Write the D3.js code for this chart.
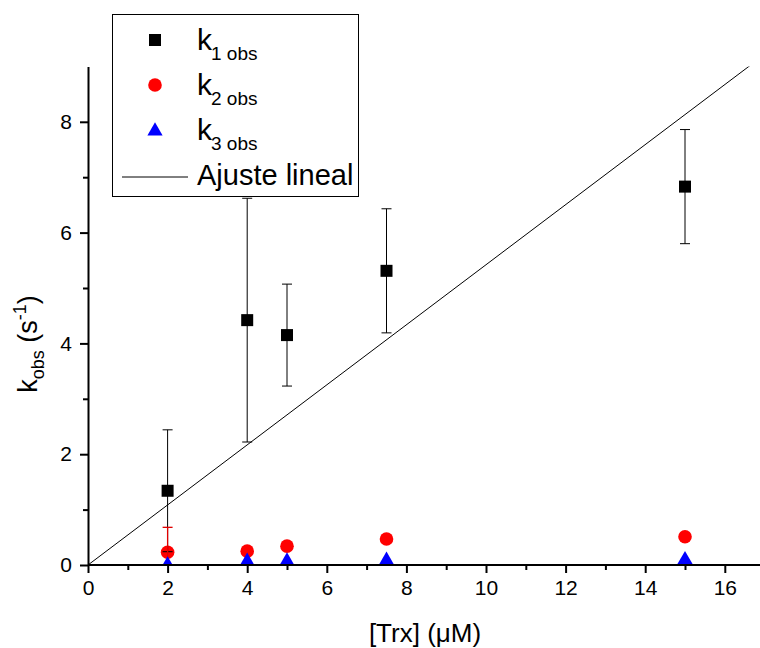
<!DOCTYPE html>
<html>
<head>
<meta charset="utf-8">
<script src="https://cdn.jsdelivr.net/npm/d3@7"></script>
<style>
  body { margin: 0; background: #fff; }
  svg { display: block; font-family: "Liberation Sans", Arial, sans-serif; }
</style>
</head>
<body>
<svg id="chart" width="760" height="648"></svg>
<script>
// ---- data ----
const trx = [2, 4, 5, 7.5, 15];
const k1 = [1.34, 4.42, 4.15, 5.31, 6.83];
const k1Err = [1.1, 2.2, 0.92, 1.12, 1.03];
const k2 = [0.23, 0.25, 0.34, 0.47, 0.51];
const k2Err = [0.45, 0, 0, 0, 0];
const k3 = [0.0, 0.065, 0.07, 0.085, 0.095];
const fitSlope = 0.542;
const xMajorTicks = [0, 2, 4, 6, 8, 10, 12, 14, 16];
const xMinorTicks = [1, 3, 5, 7, 9, 11, 13, 15];
const yMajorTicks = [0, 2, 4, 6, 8];
const yMinorTicks = [1, 3, 5, 7];

const svg = d3.select("#chart");
const x = d3.scaleLinear().domain([0, 17]).range([88, 88 + 17 * 39.8]);
const y = d3.scaleLinear().domain([0, 9]).range([565, 565 - 9 * 55.4]);

svg.append("defs").append("clipPath").attr("id", "plotclip")
  .append("rect").attr("x", 88).attr("y", y(9)).attr("width", 760 - 88).attr("height", y(0) - y(9));

const plot = svg.append("g").attr("clip-path", "url(#plotclip)");

// fit line
plot.append("path")
  .datum([0, 17])
  .attr("d", d3.line().x(d => x(d)).y(d => y(d * fitSlope)))
  .attr("fill", "none").attr("stroke", "#000").attr("stroke-width", 1);

// k2 circles (beneath error bars)
plot.selectAll(".k2").data(trx).join("circle")
  .attr("cx", d => x(d)).attr("cy", (d, i) => y(k2[i])).attr("r", 6.8).attr("fill", "#ff0000");

// error bar helper
function errBars(vals, errs, color, w) {
  const g = plot.append("g").attr("stroke", color).attr("stroke-width", w).attr("fill", "none");
  trx.forEach((xv, i) => {
    if (!errs[i]) return;
    const lo = vals[i] - errs[i], hi = vals[i] + errs[i];
    g.append("line").attr("x1", x(xv)).attr("x2", x(xv)).attr("y1", y(lo)).attr("y2", y(hi));
    g.append("line").attr("x1", x(xv) - 5).attr("x2", x(xv) + 5).attr("y1", y(lo)).attr("y2", y(lo));
    g.append("line").attr("x1", x(xv) - 5).attr("x2", x(xv) + 5).attr("y1", y(hi)).attr("y2", y(hi));
  });
}
errBars(k1, k1Err, "#000", 1);
errBars(k2, k2Err, "#e00000", 1.3);

// k1 squares
plot.selectAll(".k1").data(trx).join("rect")
  .attr("x", d => x(d) - 6).attr("y", (d, i) => y(k1[i]) - 6)
  .attr("width", 12).attr("height", 12).attr("fill", "#000");

// k3 triangles
const tri = d3.symbol().type(d3.symbolTriangle).size(100);
plot.selectAll(".k3").data(trx).join("path")
  .attr("d", tri).attr("fill", "#0000ff")
  .attr("transform", (d, i) => `translate(${x(d)},${y(k3[i])})`);

// axes
const axStyle = g => {
  g.selectAll("path, line").attr("stroke", "#000").attr("stroke-width", 2);
  g.selectAll("text").attr("fill", "#000").style("font-size", "21px")
    .style("font-family", '"Liberation Sans", Arial, sans-serif');
};
const xg = svg.append("g").attr("transform", `translate(0,${y(0)})`)
  .call(d3.axisBottom(x).tickValues(xMajorTicks).tickSize(8).tickSizeOuter(0).tickPadding(7).tickFormat(d3.format("d")));
xg.select(".domain").attr("d", `M${x(0)},0H760`);
xg.call(axStyle);
const xm = svg.append("g").attr("transform", `translate(0,${y(0)})`)
  .call(d3.axisBottom(x).tickValues(xMinorTicks).tickSize(5).tickFormat(""));
xm.select(".domain").remove();
xm.call(axStyle);

const yg = svg.append("g").attr("transform", `translate(${x(0)},0)`)
  .call(d3.axisLeft(y).tickValues(yMajorTicks).tickSize(8).tickSizeOuter(0).tickPadding(8).tickFormat(d3.format("d")));
yg.call(axStyle);
const ym = svg.append("g").attr("transform", `translate(${x(0)},0)`)
  .call(d3.axisLeft(y).tickValues(yMinorTicks).tickSize(5).tickFormat(""));
ym.select(".domain").remove();
ym.call(axStyle);

// axis titles
svg.append("text").attr("x", 425).attr("y", 642).attr("text-anchor", "middle")
  .style("font-size", "26px").text("[Trx] (μM)");

const yt = svg.append("text").attr("transform", "translate(37,344) rotate(-90)")
  .attr("text-anchor", "middle").style("font-size", "27px");
yt.append("tspan").text("k");
yt.append("tspan").attr("dy", 7).style("font-size", "18px").text("obs");
yt.append("tspan").attr("dy", -7).text(" (s");
yt.append("tspan").attr("dy", -11).style("font-size", "18px").text("-1");
yt.append("tspan").attr("dy", 11).text(")");

// legend
const lg = svg.append("g");
lg.append("rect").attr("x", 112.5).attr("y", 14.5).attr("width", 246).attr("height", 182)
  .attr("fill", "#fff").attr("stroke", "#000").attr("stroke-width", 1);
const legItems = [
  { label: "1 obs", cy: 40 },
  { label: "2 obs", cy: 85 },
  { label: "3 obs", cy: 130 }
];
lg.append("rect").attr("x", 155 - 6).attr("y", 40 - 6).attr("width", 12).attr("height", 12).attr("fill", "#000");
lg.append("circle").attr("cx", 155).attr("cy", 85).attr("r", 6.8).attr("fill", "#ff0000");
lg.append("path").attr("d", tri).attr("fill", "#0000ff").attr("transform", "translate(155,131)");
legItems.forEach(it => {
  const t = lg.append("text").attr("x", 197).attr("y", it.cy + 10).style("font-size", "30px");
  t.append("tspan").text("k");
  t.append("tspan").attr("dx", -1).attr("dy", 10).style("font-size", "19px").text(it.label);
});
lg.append("line").attr("x1", 122).attr("x2", 188).attr("y1", 177).attr("y2", 177)
  .attr("stroke", "#000").attr("stroke-width", 1);
lg.append("text").attr("x", 197).attr("y", 185).style("font-size", "29px").text("Ajuste lineal");
</script>
</body>
</html>
